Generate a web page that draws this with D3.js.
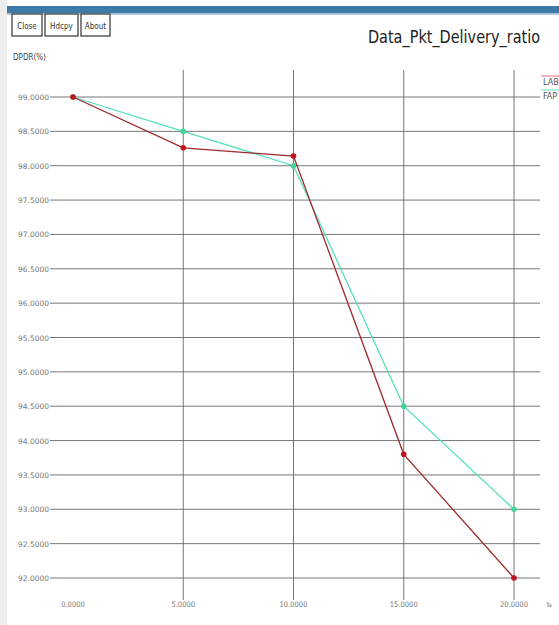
<!DOCTYPE html>
<html><head><meta charset="utf-8">
<script src="https://cdn.jsdelivr.net/npm/d3@7"></script>
<style>body{margin:0;background:#fff;overflow:hidden}svg{display:block}</style>
</head><body>
<script>
const xValues = [0, 5, 10, 15, 20];
const labValues = [99.0, 98.26, 98.14, 93.8, 92.0];
const fapValues = [99.0, 98.5, 98.0, 94.5, 93.0];
const yTicks = [99.0, 98.5, 98.0, 97.5, 97.0, 96.5, 96.0, 95.5, 95.0, 94.5, 94.0, 93.5, 93.0, 92.5, 92.0];
const seriesNames = ["LAB", "FAP"];
const buttons = ["Close", "Hdcpy", "About"];

const W = 559, H = 625;
const svg = d3.select("body").append("svg").attr("width", W).attr("height", H);
svg.append("rect").attr("width", W).attr("height", H).attr("fill", "#fff");
// window title bar
svg.append("rect").attr("x", 7).attr("y", 6).attr("width", W - 7).attr("height", 7).attr("fill", "#3f79a8");
svg.append("rect").attr("x", 7).attr("y", 13).attr("width", W - 7).attr("height", 2).attr("fill", "#a9c6de");
svg.append("rect").attr("x", 0).attr("y", 0).attr("width", 7).attr("height", H).attr("fill", "#eeeeee");

const x = d3.scaleLinear().domain([0, 20]).range([73, 514]);
const y = d3.scaleLinear().domain([92, 99]).range([578, 97]);
const font = "DejaVu Sans Condensed, DejaVu Sans";

// buttons
let bx = 12;
const bw = [30, 33, 29];
buttons.forEach((b, i) => {
  svg.append("rect").attr("x", bx).attr("y", 14).attr("width", bw[i]).attr("height", 22)
    .attr("fill", "#fff").attr("stroke", "#333").attr("stroke-width", 1.2);
  svg.append("text").attr("x", bx + bw[i] / 2).attr("y", 29).attr("text-anchor", "middle")
    .attr("font-family", font).attr("font-size", 8).attr("fill", "#333").text(b);
  bx += bw[i] + 3;
});
svg.append("text").attr("x", 13).attr("y", 60).attr("font-family", font)
  .attr("font-size", 8).attr("fill", "#444").text("DPDR(%)");

svg.append("text").attr("x", 540).attr("y", 43).attr("text-anchor", "end")
  .attr("font-family", font).attr("font-size", 17).attr("fill", "#222")
  .attr("textLength", 172).attr("lengthAdjust", "spacingAndGlyphs").text("Data_Pkt_Delivery_ratio");

// grid
const g = svg.append("g");
yTicks.forEach(t => {
  g.append("line").attr("x1", 50).attr("x2", 540).attr("y1", y(t)).attr("y2", y(t))
    .attr("stroke", "#666").attr("stroke-width", 0.9);
  g.append("text").attr("x", 49).attr("y", y(t) + 3).attr("text-anchor", "end")
    .attr("font-family", font).attr("font-size", 7.5).attr("fill", "#777")
    .attr("textLength", 31).attr("lengthAdjust", "spacingAndGlyphs")
    .text(d3.format(".4f")(t));
});
xValues.forEach(t => {
  if (t > 0) g.append("line").attr("x1", x(t)).attr("x2", x(t)).attr("y1", 70).attr("y2", 600)
    .attr("stroke", "#666").attr("stroke-width", 0.9);
  g.append("text").attr("x", x(t)).attr("y", 607).attr("text-anchor", "middle")
    .attr("font-family", font).attr("font-size", 7.5).attr("fill", "#777")
    .text(d3.format(".4f")(t));
});
svg.append("text").attr("x", 546).attr("y", 607).attr("font-family", font)
  .attr("font-size", 6).attr("fill", "#666").text("Ta");

const line = d3.line().x((d, i) => x(xValues[i])).y(d => y(d));
const series = [
  { name: seriesNames[0], values: labValues, color: "#9e2a2a", dot: "#c0141e", leg: "#e07080" },
  { name: seriesNames[1], values: fapValues, color: "#55e0c0", dot: "#3fd89a", leg: "#70e0c0" }
];
[series[1], series[0]].forEach(s => {
  svg.append("path").attr("d", line(s.values)).attr("fill", "none")
    .attr("stroke", s.color).attr("stroke-width", 1.3);
  svg.selectAll(null).data(s.values).enter().append("circle")
    .attr("cx", (d, i) => x(xValues[i])).attr("cy", d => y(d)).attr("r", 2.8).attr("fill", s.dot);
});

// legend (clipped at window edge)
series.forEach((s, i) => {
  const ly = 76 + i * 14;
  svg.append("line").attr("x1", 541).attr("x2", 559).attr("y1", ly).attr("y2", ly)
    .attr("stroke", s.leg).attr("stroke-width", 1);
  svg.append("text").attr("x", 543).attr("y", ly + 9).attr("font-family", font)
    .attr("font-size", 9).attr("fill", "#555").text(s.name);
});
</script>
</body></html>
